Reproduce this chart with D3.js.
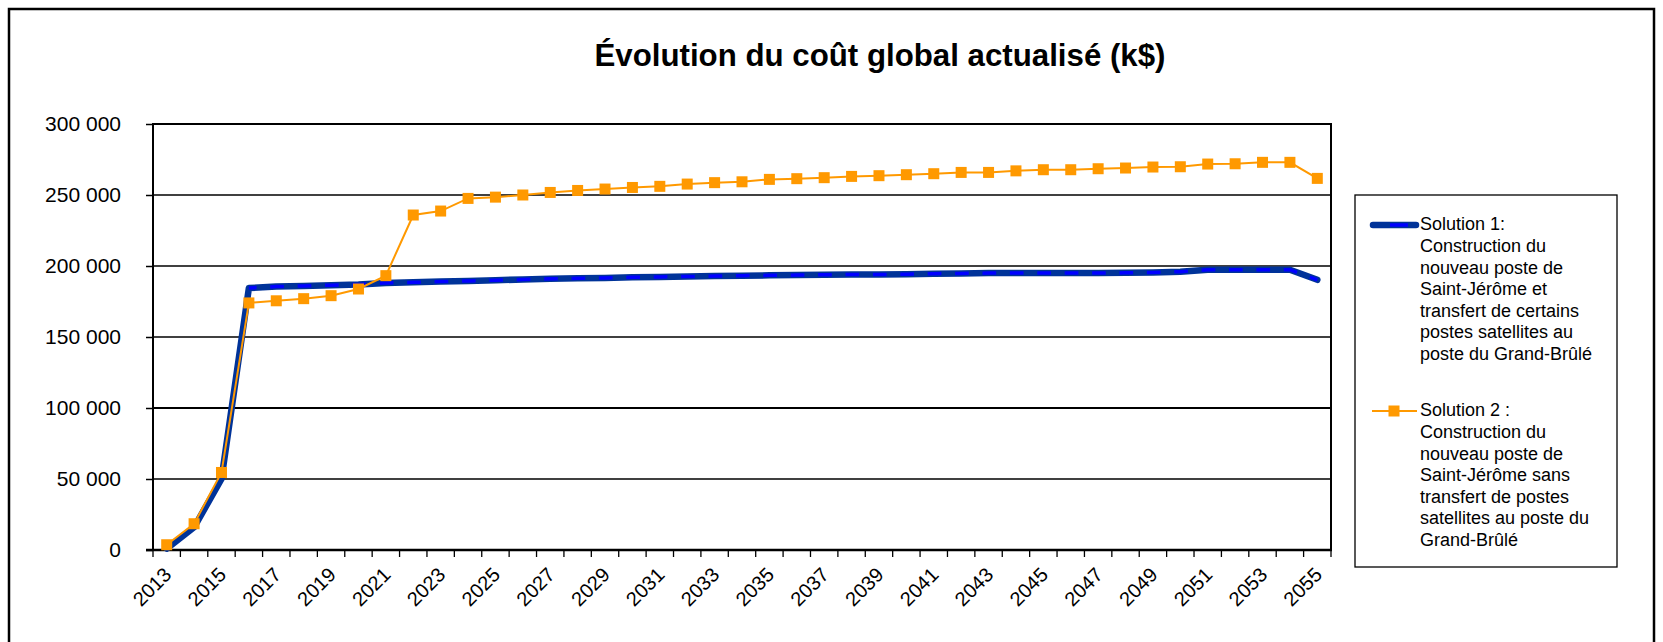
<!DOCTYPE html>
<html>
<head>
<meta charset="utf-8">
<script src="https://cdn.jsdelivr.net/npm/d3@7"></script>
<style>
  body { margin: 0; background: #fff; }
  svg { display: block; font-family: "Liberation Sans", Arial, sans-serif; }
</style>
</head>
<body>
<svg id="canvas"></svg>
<script>
// years on the category axis
const years = d3.range(2013, 2056)

// Solution 1 (k$)
const solution1 = [
  1000, 16000, 50000, 184500, 185500, 186000, 186500, 187000, 188000, 188500,
  189000, 189500, 190000, 190500, 191000, 191300, 191600, 192000, 192300, 192600,
  192900, 193200, 193400, 193600, 193800, 194000, 194000, 194200, 194600, 194800,
  195000, 195000, 195000, 195000, 195000, 195200, 195500, 196000, 197400, 197400,
  197400, 197400, 190300
]

// Solution 2 (k$)
const solution2 = [
  3700, 18500, 54600, 174000, 175500, 177000, 179100, 183800, 193200, 235900,
  238700, 247600, 248500, 250000, 251800, 253200, 254200, 255300, 256100, 257700,
  258700, 259300, 261000, 261500, 262200, 263100, 263600, 264300, 265000, 265900,
  265900, 267000, 267800, 267800, 268500, 269000, 269700, 269900, 271800, 272000,
  273000, 273000, 261700
]

const yTicks = [0, 50000, 100000, 150000, 200000, 250000, 300000]

const title = "Évolution du coût global actualisé (k$)"
const legend1 = ["Solution 1:", "Construction du", "nouveau poste de", "Saint-Jérôme et",
  "transfert de certains", "postes satellites au", "poste du Grand-Brûlé"]
const legend2 = ["Solution 2 :", "Construction du", "nouveau poste de", "Saint-Jérôme sans",
  "transfert de postes", "satellites au poste du", "Grand-Brûlé"]

const width = 1663
const height = 642
const plot = { left: 153, right: 1331, top: 124, bottom: 550 }

const navy = "#003399"
const blue = "#0000ff"
const orange = "#ff9900"

const canvas = d3.select("#canvas")
  .attr("width", width)
  .attr("height", height)

// outer frame of the chart
canvas.append("rect")
  .attr("x", 9).attr("y", 9)
  .attr("width", 1645).attr("height", height + 20)
  .attr("fill", "none")
  .attr("stroke", "#000")
  .attr("stroke-width", 2.5)

// title
canvas.append("text")
  .attr("x", 880)
  .attr("y", 66)
  .attr("text-anchor", "middle")
  .attr("font-weight", "bold")
  .attr("font-size", 31)
  .attr("textLength", 571)
  .attr("lengthAdjust", "spacingAndGlyphs")
  .text(title)

// scales
const xScale = d3.scaleBand()
  .domain(years)
  .range([plot.left, plot.right])
  .padding(0)

const yScale = d3.scaleLinear()
  .domain([0, 300000])
  .range([plot.bottom, plot.top])

const cx = (year) => xScale(year) + xScale.bandwidth() / 2

// gridlines
canvas.append("g")
  .selectAll("line")
  .data(yTicks.filter(d => d > 0 && d < 300000))
  .enter().append("line")
  .attr("x1", plot.left).attr("x2", plot.right)
  .attr("y1", d => yScale(d)).attr("y2", d => yScale(d))
  .attr("stroke", "#000")
  .attr("stroke-width", d => d === 100000 ? 2.2 : 1.3)

// plot frame
canvas.append("rect")
  .attr("x", plot.left).attr("y", plot.top)
  .attr("width", plot.right - plot.left)
  .attr("height", plot.bottom - plot.top)
  .attr("fill", "none")
  .attr("stroke", "#000")
  .attr("stroke-width", 2)

// y axis
const yAxis = d3.axisLeft(yScale)
  .tickValues(yTicks)
  .tickSize(7)
  .tickPadding(25)
  .tickFormat(d => d3.format(",")(d).replace(/,/g, " "))

const yG = canvas.append("g")
  .attr("transform", `translate(${plot.left}, 0)`)
  .call(yAxis)
yG.select(".domain").remove()
yG.selectAll(".tick line").attr("stroke", "#000").attr("stroke-width", 1.5)
yG.selectAll(".tick text")
  .attr("fill", "#000")
  .attr("font-size", 21)
  .attr("font-family", "Liberation Sans, Arial, sans-serif")

// x axis: ticks on the category boundaries
const boundaries = years.map(y => xScale(y)).concat([plot.right])
canvas.append("g")
  .selectAll("line")
  .data(boundaries)
  .enter().append("line")
  .attr("x1", d => d).attr("x2", d => d)
  .attr("y1", plot.bottom).attr("y2", plot.bottom + 7)
  .attr("stroke", "#000")
  .attr("stroke-width", 1.3)

canvas.append("line")
  .attr("x1", plot.left - 7).attr("x2", plot.right + 1)
  .attr("y1", plot.bottom).attr("y2", plot.bottom)
  .attr("stroke", "#000")
  .attr("stroke-width", 2.5)

canvas.append("g")
  .selectAll("text")
  .data(years.filter((d, i) => i % 2 === 0))
  .enter().append("text")
  .attr("transform", d => `translate(${cx(d) + 6}, 576) rotate(-45)`)
  .attr("text-anchor", "end")
  .attr("font-size", 20)
  .text(d => d)

// lines
const line = d3.line()
  .x(d => cx(d.year))
  .y(d => yScale(d.value))

const s1 = years.map((year, i) => ({ year: year, value: solution1[i] }))
const s2 = years.map((year, i) => ({ year: year, value: solution2[i] }))

canvas.append("path")
  .datum(s1)
  .attr("d", line)
  .attr("fill", "none")
  .attr("stroke", navy)
  .attr("stroke-width", 6.5)
  .attr("stroke-linejoin", "round")
  .attr("stroke-linecap", "round")

canvas.append("path")
  .datum(s1.slice(3))
  .attr("d", line)
  .attr("fill", "none")
  .attr("stroke", blue)
  .attr("stroke-width", 3.5)
  .attr("stroke-dasharray", "13.7 13.7")
  .attr("stroke-dashoffset", 6)

canvas.append("path")
  .datum(s2)
  .attr("d", line)
  .attr("fill", "none")
  .attr("stroke", orange)
  .attr("stroke-width", 2)

const marker = 11
canvas.append("g")
  .selectAll("rect")
  .data(s2)
  .enter().append("rect")
  .attr("x", d => cx(d.year) - marker / 2)
  .attr("y", d => yScale(d.value) - marker / 2)
  .attr("width", marker)
  .attr("height", marker)
  .attr("fill", orange)

// legend
const lg = canvas.append("g")
lg.append("rect")
  .attr("x", 1355).attr("y", 195)
  .attr("width", 262).attr("height", 372)
  .attr("fill", "#fff")
  .attr("stroke", "#000")
  .attr("stroke-width", 1.3)

lg.append("line")
  .attr("x1", 1373).attr("x2", 1416)
  .attr("y1", 225).attr("y2", 225)
  .attr("stroke", navy)
  .attr("stroke-width", 6.5)
  .attr("stroke-linecap", "round")
lg.append("line")
  .attr("x1", 1390).attr("x2", 1408)
  .attr("y1", 225).attr("y2", 225)
  .attr("stroke", blue)
  .attr("stroke-width", 3.5)

lg.append("line")
  .attr("x1", 1372).attr("x2", 1417)
  .attr("y1", 411).attr("y2", 411)
  .attr("stroke", orange)
  .attr("stroke-width", 2)
lg.append("rect")
  .attr("x", 1394 - marker / 2).attr("y", 411 - marker / 2)
  .attr("width", marker).attr("height", marker)
  .attr("fill", orange)

const legendText = (lines, top) => {
  lg.append("g")
    .selectAll("text")
    .data(lines)
    .enter().append("text")
    .attr("x", 1420)
    .attr("y", (d, i) => top + i * 21.6)
    .attr("dy", "0.35em")
    .attr("font-size", 18)
    .text(d => d)
}
legendText(legend1, 224)
legendText(legend2, 410)
</script>
</body>
</html>
